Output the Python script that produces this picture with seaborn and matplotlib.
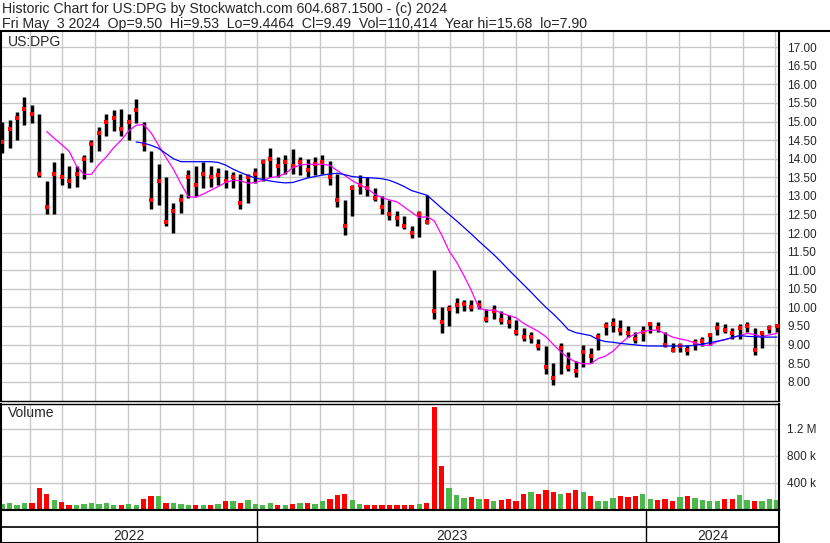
import matplotlib
matplotlib.use("Agg")
import matplotlib.pyplot as plt
import matplotlib.dates as mdates
from matplotlib.lines import Line2D
from matplotlib.ticker import FixedLocator
import pandas as pd
import seaborn as sns

sns.set_style("white")
plt.rcParams["font.family"] = ["Liberation Sans", "DejaVu Sans"]

# weekly bars (Fridays)
weeks = pd.date_range("2022-05-06", "2024-05-03", freq="7D")

high = [15.0, 15.05, 15.25, 15.66, 15.45, 15.2, 13.4, 13.9, 14.15, 13.8,
        13.8, 14.1, 14.5, 14.85, 15.2, 15.3, 15.35, 15.2, 15.6, 15.0,
        14.2, 13.85, 13.5, 12.8, 13.05, 13.7, 13.8, 13.9, 13.8, 13.75,
        13.7, 13.65, 13.6, 13.6, 13.75, 14.0, 14.3, 14.05, 14.1, 14.25,
        14.05, 14.0, 14.05, 14.1, 13.95, 13.6, 12.9, 13.3, 13.55, 13.5,
        13.2, 13.0, 12.9, 12.6, 12.45, 12.2, 12.6, 13.03, 11.0, 10.0,
        10.05, 10.25, 10.2, 10.2, 10.2, 9.95, 10.05, 9.9, 9.8, 9.65,
        9.45, 9.35, 9.15, 8.95, 8.5, 9.05, 8.8, 8.55, 9.0, 8.9,
        9.3, 9.6, 9.71, 9.65, 9.5, 9.35, 9.5, 9.6, 9.61, 9.35,
        9.05, 9.05, 9.0, 9.15, 9.2, 9.3, 9.61, 9.55, 9.45, 9.55,
        9.6, 9.45, 9.35, 9.53, 9.53]
low = [14.15, 14.3, 14.5, 14.9, 14.95, 13.5, 12.5, 12.5, 13.3, 13.2,
       13.25, 13.45, 13.9, 14.2, 14.6, 14.75, 14.6, 14.5, 14.95, 14.2,
       12.65, 12.75, 12.2, 12.0, 12.55, 12.95, 13.0, 13.2, 13.25, 13.3,
       13.2, 13.2, 12.65, 12.8, 13.35, 13.4, 13.5, 13.5, 13.6, 13.6,
       13.55, 13.5, 13.55, 13.6, 13.3, 12.7, 11.95, 12.45, 13.05, 13.0,
       12.85, 12.5, 12.35, 12.2, 12.1, 11.87, 11.9, 12.25, 9.7, 9.31,
       9.5, 9.85, 9.9, 9.9, 9.95, 9.6, 9.7, 9.55, 9.45, 9.25,
       9.1, 9.05, 8.85, 8.2, 7.9, 8.2, 8.3, 8.13, 8.4, 8.5,
       8.85, 9.25, 9.35, 9.25, 9.2, 9.04, 9.1, 9.3, 9.35, 8.93,
       8.8, 8.8, 8.72, 8.85, 8.95, 9.0, 9.25, 9.3, 9.15, 9.15,
       9.35, 8.72, 8.9, 9.3, 9.35]
close = [14.45, 14.8, 15.1, 15.35, 15.2, 13.6, 12.7, 13.6, 13.5, 13.4,
         13.6, 14.0, 14.4, 14.7, 15.0, 15.1, 14.8, 15.0, 15.3, 14.4,
         12.9, 13.4, 12.3, 12.6, 12.9, 13.5, 13.3, 13.6, 13.5, 13.55,
         13.4, 13.5, 12.8, 13.5, 13.6, 13.9, 14.0, 13.8, 13.9, 13.8,
         13.9, 13.7, 13.85, 13.9, 13.5, 12.9, 12.2, 13.2, 13.3, 13.2,
         12.95, 12.7, 12.5, 12.4, 12.2, 12.0, 12.5, 12.3, 9.9, 9.6,
         9.95, 10.05, 10.1, 10.0, 10.05, 9.7, 9.9, 9.65, 9.6, 9.35,
         9.2, 9.2, 8.95, 8.4, 8.1, 8.9, 8.4, 8.3, 8.8, 8.7,
         9.2, 9.5, 9.55, 9.4, 9.3, 9.15, 9.35, 9.55, 9.45, 9.0,
         8.85, 8.95, 8.85, 9.05, 9.1, 9.25, 9.45, 9.4, 9.3, 9.45,
         9.5, 8.85, 9.3, 9.45, 9.49]
volume_k = [90, 100, 80, 110, 100, 320, 230, 150, 120, 80,
            70, 90, 100, 90, 110, 80, 80, 90, 80, 170,
            200, 210, 110, 100, 90, 70, 80, 70, 70, 90,
            140, 130, 110, 150, 90, 80, 100, 80, 80, 90,
            110, 100, 90, 140, 170, 220, 240, 150, 90, 70,
            70, 80, 80, 70, 70, 80, 90, 110, 1520, 650,
            330, 220, 180, 190, 170, 160, 140, 150, 170, 140,
            230, 260, 240, 300, 270, 230, 250, 300, 260, 200,
            140, 130, 180, 200, 190, 210, 230, 170, 150, 160,
            140, 190, 200, 180, 150, 130, 140, 160, 170, 220,
            150, 140, 130, 160, 150]

# moving averages (pink starts at week 6, blue at week 18)
pink_start = 6
pink_ma = [14.73, 14.55, 14.38, 14.2, 13.8, 13.58, 13.58, 13.85, 14.05, 14.3,
           14.5, 14.75, 14.9, 14.92, 14.7, 14.36, 14.03, 13.72, 13.33, 12.98,
           12.96, 13.05, 13.15, 13.25, 13.36, 13.42, 13.41, 13.34, 13.36, 13.42,
           13.49, 13.52, 13.6, 13.75, 13.83, 13.85, 13.85, 13.85, 13.82, 13.68,
           13.55, 13.41, 13.3, 13.2, 13.05, 12.95, 12.89, 12.84, 12.7, 12.55,
           12.42, 12.44, 12.33, 11.95, 11.52, 11.22, 10.85, 10.45, 9.98, 9.92,
           9.93, 9.85, 9.78, 9.72, 9.57, 9.46, 9.35, 9.21, 9.0, 8.8,
           8.64, 8.53, 8.48, 8.48, 8.62, 8.69, 8.82, 9.02, 9.19, 9.28,
           9.35, 9.38, 9.39, 9.29, 9.2, 9.15, 9.11, 9.04, 8.98, 8.98,
           9.08, 9.13, 9.18, 9.24, 9.3, 9.27, 9.21, 9.26, 9.3]
blue_start = 18
blue_ma = [14.45, 14.42, 14.36, 14.28, 14.14, 14.0, 13.92, 13.92, 13.92, 13.92,
           13.92, 13.9, 13.83, 13.72, 13.63, 13.55, 13.48, 13.44, 13.4, 13.37,
           13.35, 13.36, 13.42, 13.48, 13.52, 13.56, 13.59, 13.61, 13.57, 13.52,
           13.5, 13.49, 13.48, 13.46, 13.42, 13.34, 13.25, 13.14, 13.08, 13.02,
           12.85, 12.67, 12.5, 12.33, 12.15, 11.97, 11.78, 11.6, 11.42, 11.22,
           11.01, 10.81, 10.61, 10.41, 10.2, 10.0, 9.82, 9.62, 9.4, 9.32,
           9.28, 9.24, 9.13, 9.08, 9.06, 9.03, 9.01, 8.99, 8.97, 8.96,
           8.96, 8.96, 8.96, 8.96, 8.96, 8.98, 9.01, 9.05, 9.09, 9.13,
           9.19, 9.24, 9.22, 9.21, 9.2, 9.2, 9.2]

price_ticks = [8.0 + 0.5 * k for k in range(19)]
vol_ticks = [400, 800, 1200]
vol_labels = ["400 k", "800 k", "1.2 M"]
years = ["2022", "2023", "2024"]

W, H = 830, 543
fig = plt.figure(figsize=(W / 100, H / 100), dpi=100)
fig.patch.set_facecolor("white")

def box(x0, y0, x1, y1):
    return [x0 / W, 1 - y1 / H, (x1 - x0) / W, (y1 - y0) / H]

ax = fig.add_axes(box(1, 32, 779, 401))
axv = fig.add_axes(box(1, 404, 779, 510))
axd = fig.add_axes(box(1, 510, 779, 543))

xmin, xmax = pd.Timestamp("2022-05-05"), pd.Timestamp("2024-05-05")
grid_kw = dict(color="#c8c8c8", linewidth=1.0)

# price panel
ax.vlines(weeks, low, high, color="black", linewidth=2.5)
sns.scatterplot(x=weeks, y=close, ax=ax, color="red", marker="s", s=6, linewidth=0, zorder=3)
sns.lineplot(x=weeks[pink_start:], y=pink_ma, ax=ax, color="#ff00ff", linewidth=0.9, zorder=4)
sns.lineplot(x=weeks[blue_start:], y=blue_ma, ax=ax, color="#0000ff", linewidth=0.9, zorder=4)
ax.set_xlim(xmin, xmax)
ax.set_ylim(7.48, 17.41)
ax.xaxis.set_major_locator(mdates.MonthLocator())
ax.yaxis.set_major_locator(FixedLocator(price_ticks))
ax.set_yticklabels([f"{v:.2f}" for v in price_ticks])
ax.yaxis.tick_right()
ax.tick_params(axis="y", length=0, pad=6, labelsize=8.5)
ax.tick_params(axis="x", length=0, labelbottom=False)
ax.grid(True, **grid_kw)
ax.set_axisbelow(True)
ax.set_xlabel("")
ax.set_ylabel("")
ax.text(0.009, 0.973, "US:DPG", transform=ax.transAxes, fontsize=10, va="center")

# volume panel
colors = ["#4cb84c"] + ["#4cb84c" if close[i] >= close[i - 1] else "#ff0000" for i in range(1, len(close))]
axv.bar(weeks, volume_k, width=5, color=colors, linewidth=0)
axv.set_xlim(xmin, xmax)
axv.set_ylim(0, 1567)
axv.xaxis.set_major_locator(mdates.MonthLocator())
axv.yaxis.set_major_locator(FixedLocator(vol_ticks))
axv.set_yticklabels(vol_labels)
axv.yaxis.tick_right()
axv.tick_params(axis="y", length=0, pad=6, labelsize=8.5)
axv.tick_params(axis="x", length=0, labelbottom=False)
axv.grid(True, **grid_kw)
axv.set_axisbelow(True)
axv.text(0.009, 0.915, "Volume", transform=axv.transAxes, fontsize=10, va="center")

# date strip
axd.set_xlim(xmin, xmax)
axd.set_ylim(0, 2)
axd.axhline(1, color="black", linewidth=1.2)
year_starts = [pd.Timestamp("2023-01-01"), pd.Timestamp("2024-01-01")]
for d in year_starts:
    axd.axvline(d, color="black", linewidth=1.0)
bounds = [xmin] + year_starts + [xmax]
for k, label in enumerate(years):
    mid = bounds[k] + (bounds[k + 1] - bounds[k]) / 2
    axd.text(mid, 0.45, label, ha="center", va="center", fontsize=10)
axd.set_xticks([])
axd.set_yticks([])

for a in (ax, axv, axd):
    for side in ("left", "right", "bottom", "top"):
        a.spines[side].set_visible(True)
        a.spines[side].set_color("black")
        a.spines[side].set_linewidth(1.5)
ax.spines["top"].set_visible(False)
ax.spines["bottom"].set_linewidth(1.0)
axv.spines["top"].set_linewidth(1.0)

# header
fig.add_artist(Line2D([0, 1], [1 - 31 / H] * 2, transform=fig.transFigure, color="black", linewidth=1.5))
fig.text(2 / W, 1 - 2 / H, "Historic Chart for US:DPG by Stockwatch.com 604.687.1500 - (c) 2024",
         fontsize=10.2, va="top", ha="left")
fig.text(2 / W, 1 - 17 / H,
         "Fri May  3 2024  Op=9.50  Hi=9.53  Lo=9.4464  Cl=9.49  Vol=110,414  Year hi=15.68  lo=7.90",
         fontsize=10.2, va="top", ha="left")

fig.savefig("out.png", dpi=100)
